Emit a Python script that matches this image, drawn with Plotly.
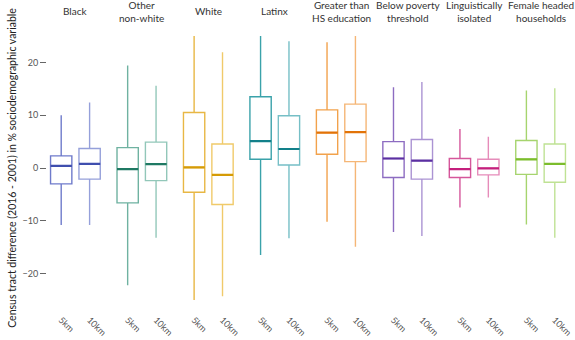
import plotly.graph_objects as go
from plotly.subplots import make_subplots

# facet labels and buffer sizes
groups = [
    "Black",
    "Other<br>non-white",
    "White",
    "Latinx",
    "Greater than<br>HS education",
    "Below poverty<br>threshold",
    "Linguistically<br>isolated",
    "Female headed<br>households",
]
buffers = ["5km", "10km"]

# box statistics, one value per group
lower_5km = [-10.8, -22.2, -25.0, -16.5, -10.2, -12.1, -7.5, -10.7]
q1_5km = [-3.0, -6.6, -4.6, 1.65, 2.6, -1.8, -1.8, -1.2]
median_5km = [0.4, -0.2, 0.1, 5.1, 6.7, 1.8, -0.2, 1.65]
q3_5km = [2.3, 3.85, 10.5, 13.5, 11.0, 5.0, 1.8, 5.2]
upper_5km = [10.0, 19.4, 25.0, 25.0, 23.8, 15.3, 7.4, 14.7]

lower_10km = [-10.8, -13.2, -24.3, -13.3, -14.9, -12.9, -5.6, -13.2]
q1_10km = [-2.1, -2.4, -6.9, 0.57, 1.2, -2.1, -1.3, -2.7]
median_10km = [0.8, 0.75, -1.3, 3.6, 6.8, 1.4, -0.06, 0.8]
q3_10km = [3.7, 4.9, 4.55, 9.9, 12.1, 5.4, 1.65, 4.55]
upper_10km = [12.4, 15.6, 21.9, 24.0, 25.0, 16.3, 5.9, 15.1]

colors_5km = ["#6f7bcb", "#6fb2a1", "#e8b744", "#3aa2aa", "#f2a24c", "#8d6cc1", "#d5579b", "#a6d46e"]
colors_10km = ["#95a0da", "#92c7b9", "#f0ca6a", "#76bfc6", "#f5b676", "#ab93d3", "#e68cba", "#bfe294"]
colors_median = ["#3f4eae", "#1f7963", "#d59b06", "#12808a", "#e27308", "#5b2fa1", "#c41f7c", "#7cbd2c"]

FONT = "Lato, 'Open Sans', sans-serif"

fig = make_subplots(rows=1, cols=len(groups), shared_yaxes=True, horizontal_spacing=0.0185)

stats = {
    "5km": (lower_5km, q1_5km, median_5km, q3_5km, upper_5km, colors_5km),
    "10km": (lower_10km, q1_10km, median_10km, q3_10km, upper_10km, colors_10km),
}

for i, group in enumerate(groups):
    col = i + 1
    for buf in buffers:
        lo, q1, med, q3, up, cols = stats[buf]
        fig.add_trace(
            go.Box(
                x=[buf],
                lowerfence=[lo[i]],
                q1=[q1[i]],
                median=[med[i]],
                q3=[q3[i]],
                upperfence=[up[i]],
                width=0.75,
                whiskerwidth=0,
                line=dict(color=cols[i], width=1.4),
                fillcolor="rgba(255,255,255,0)",
                boxpoints=False,
                showlegend=False,
                hoverinfo="skip",
            ),
            row=1,
            col=col,
        )
        # darker, thicker median bar drawn on top
        fig.add_trace(
            go.Box(
                x=[buf],
                lowerfence=[med[i]],
                q1=[med[i]],
                median=[med[i]],
                q3=[med[i]],
                upperfence=[med[i]],
                width=0.75,
                whiskerwidth=0,
                line=dict(color=colors_median[i], width=2.2),
                fillcolor="rgba(255,255,255,0)",
                boxpoints=False,
                showlegend=False,
                hoverinfo="skip",
            ),
            row=1,
            col=col,
        )
    xref = "x domain" if col == 1 else f"x{col} domain"
    fig.add_annotation(
        text=group,
        xref=xref,
        yref="paper",
        x=0.5,
        y=1,
        yshift=25,
        yanchor="middle",
        showarrow=False,
        font=dict(family=FONT, size=10, color="#333333"),
    )

fig.update_xaxes(
    categoryorder="array",
    categoryarray=buffers,
    range=[-0.5, 1.5],
    automargin=False,
    showgrid=False,
    zeroline=False,
    showline=False,
    ticks="",
    tickangle=45,
    ticklabelstandoff=12,
    tickfont=dict(family=FONT, size=9, color="#555555"),
)
fig.update_yaxes(
    range=[-25, 25],
    dtick=10,
    automargin=False,
    showgrid=False,
    zeroline=False,
    showline=False,
    ticks="",
    showticklabels=False,
)
fig.update_yaxes(
    ticks="outside",
    ticklen=6,
    tickcolor="#666666",
    showticklabels=True,
    tickfont=dict(family=FONT, size=9, color="#555555"),
    title=dict(
        text="Census tract difference (2016 - 2001) in % sociodemographic variable",
        font=dict(family=FONT, size=10.5, color="#222222"),
        standoff=3,
    ),
    row=1,
    col=1,
)

fig.update_layout(
    width=575,
    height=340,
    margin=dict(l=47, r=6, t=36, b=40),
    paper_bgcolor="white",
    plot_bgcolor="white",
    font=dict(family=FONT),
    boxmode="overlay",
)

# the page's default body margin would shift the figure off the window
fig.write_html(
    "out.html",
    config={"displayModeBar": False},
    post_script="document.body.style.margin = '0';",
)
